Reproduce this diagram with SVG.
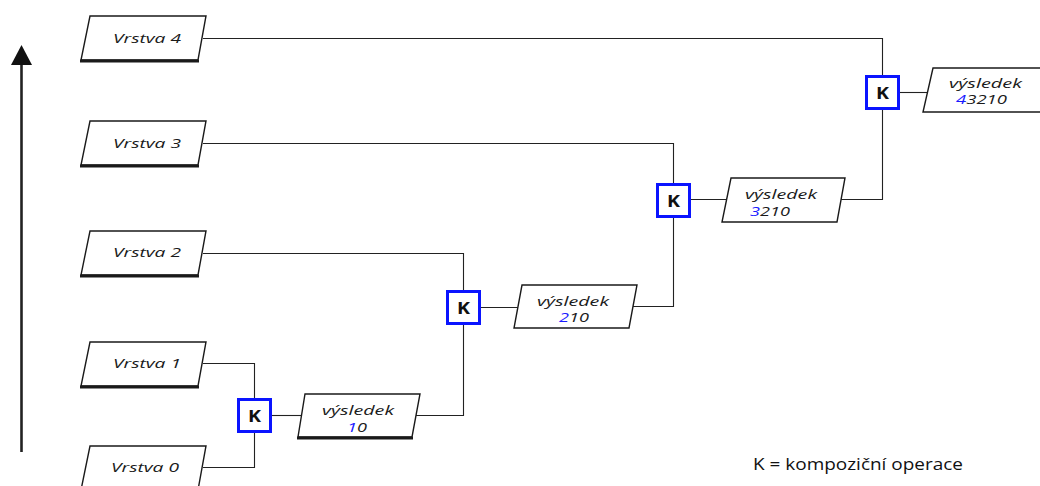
<svg xmlns="http://www.w3.org/2000/svg" width="1040" height="486" viewBox="0 0 1040 486">
  <style>
    .box { fill: #ffffff; stroke: #1a1a1a; stroke-width: 1.4; stroke-linejoin: miter; }
    .base { stroke: #1a1a1a; stroke-width: 3.2; fill: none; }
    .lbl { font-family: "Open Sans", "Liberation Sans", sans-serif; font-style: italic; font-size: 13px; fill: #1a1a1a; }
    .hi { fill: #1a1aff; }
    .k { fill: #ffffff; stroke: #0a14ff; stroke-width: 3; }
    .kt { font-family: "Open Sans", "Liberation Sans", sans-serif; font-weight: bold; font-size: 16px; fill: #111111; }
    .wire { stroke: #222222; stroke-width: 1.1; fill: none; }
    .note { font-family: "Open Sans", "Liberation Sans", sans-serif; font-size: 17px; fill: #111111; }
  </style>

  <!-- vertical axis arrow -->
  <g id="axis">
    <line x1="21.5" y1="452" x2="21.5" y2="62" stroke="#222222" stroke-width="2.6"/>
    <path d="M11,65 L21.5,45 L32,65 Z" fill="#111111"/>
  </g>

  <!-- connectors -->
  <g id="connectors">
    <polyline class="wire" points="203,38.5 882.5,38.5 882.5,76"/>
    <polyline class="wire" points="203,143.5 673.5,143.5 673.5,184"/>
    <polyline class="wire" points="203,253.5 463.5,253.5 463.5,291"/>
    <polyline class="wire" points="203,363.5 254.5,363.5 254.5,399"/>
    <polyline class="wire" points="203,467.5 254.5,467.5 254.5,432"/>
    <line class="wire" x1="271" y1="415.5" x2="301" y2="415.5"/>
    <polyline class="wire" points="416,415.5 463.5,415.5 463.5,324"/>
    <line class="wire" x1="480" y1="307.5" x2="518" y2="307.5"/>
    <polyline class="wire" points="633,306.5 673.5,306.5 673.5,216"/>
    <line class="wire" x1="689" y1="199.5" x2="727" y2="199.5"/>
    <polyline class="wire" points="841,199.5 882.5,199.5 882.5,109"/>
    <line class="wire" x1="898" y1="92.5" x2="928" y2="92.5"/>
  </g>

  <!-- layer inputs -->
  <g id="vrstva4">
    <path class="box" d="M90,16 L206,16 L198,60 L81,60 Z"/>
    <line class="base" x1="80" y1="61" x2="199" y2="61"/>
    <text class="lbl" x="113" y="43" textLength="68" lengthAdjust="spacingAndGlyphs">Vrstva 4</text>
  </g>
  <g id="vrstva3">
    <path class="box" d="M90,121 L206,121 L198,165 L81,165 Z"/>
    <line class="base" x1="80" y1="166" x2="199" y2="166"/>
    <text class="lbl" x="113" y="148" textLength="68" lengthAdjust="spacingAndGlyphs">Vrstva 3</text>
  </g>
  <g id="vrstva2">
    <path class="box" d="M90,231 L206,231 L198,275 L81,275 Z"/>
    <line class="base" x1="80" y1="276" x2="199" y2="276"/>
    <text class="lbl" x="113" y="257" textLength="68" lengthAdjust="spacingAndGlyphs">Vrstva 2</text>
  </g>
  <g id="vrstva1">
    <path class="box" d="M90,342 L206,342 L198,386 L81,386 Z"/>
    <line class="base" x1="80" y1="387" x2="199" y2="387"/>
    <text class="lbl" x="113" y="368" textLength="68" lengthAdjust="spacingAndGlyphs">Vrstva 1</text>
  </g>
  <g id="vrstva0">
    <path class="box" d="M90,446 L206,446 L198,490 L81,490 Z"/>
    <text class="lbl" x="111" y="472" textLength="68" lengthAdjust="spacingAndGlyphs">Vrstva 0</text>
  </g>

  <!-- composition operators -->
  <g id="k1">
    <rect class="k" x="238.5" y="399.5" width="32" height="32"/>
    <text class="kt" x="248" y="421.5" textLength="13" lengthAdjust="spacingAndGlyphs">K</text>
  </g>
  <g id="k2">
    <rect class="k" x="447.5" y="291.5" width="32" height="32"/>
    <text class="kt" x="457" y="313.5" textLength="13" lengthAdjust="spacingAndGlyphs">K</text>
  </g>
  <g id="k3">
    <rect class="k" x="657.5" y="184.5" width="32" height="32"/>
    <text class="kt" x="667" y="206.5" textLength="13" lengthAdjust="spacingAndGlyphs">K</text>
  </g>
  <g id="k4">
    <rect class="k" x="866.5" y="76.5" width="32" height="32"/>
    <text class="kt" x="876" y="98.5" textLength="13" lengthAdjust="spacingAndGlyphs">K</text>
  </g>

  <!-- intermediate results -->
  <g id="vysledek10">
    <path class="box" d="M305,394 L420,394 L412,437 L298,437 Z"/>
    <line class="base" x1="297" y1="438" x2="413" y2="438"/>
    <text class="lbl" x="322" y="415" textLength="72" lengthAdjust="spacingAndGlyphs">výsledek</text>
    <text class="lbl" x="347" y="431.5" textLength="20" lengthAdjust="spacingAndGlyphs"><tspan class="hi">1</tspan>0</text>
  </g>
  <g id="vysledek210">
    <path class="box" d="M522,285 L637,285 L629,328 L514,328 Z"/>
    <text class="lbl" x="537" y="306" textLength="72" lengthAdjust="spacingAndGlyphs">výsledek</text>
    <text class="lbl" x="559" y="322" textLength="30" lengthAdjust="spacingAndGlyphs"><tspan class="hi">2</tspan>10</text>
  </g>
  <g id="vysledek3210">
    <path class="box" d="M731,178 L845,178 L837,222 L722,222 Z"/>
    <text class="lbl" x="745" y="199" textLength="72" lengthAdjust="spacingAndGlyphs">výsledek</text>
    <text class="lbl" x="750" y="216" textLength="40" lengthAdjust="spacingAndGlyphs"><tspan class="hi">3</tspan>210</text>
  </g>
  <g id="vysledek43210">
    <path class="box" d="M933,68 L1050,68 L1042,112 L923,112 Z"/>
    <text class="lbl" x="949" y="88" textLength="73" lengthAdjust="spacingAndGlyphs">výsledek</text>
    <text class="lbl" x="956" y="104" textLength="51" lengthAdjust="spacingAndGlyphs"><tspan class="hi">4</tspan>3210</text>
  </g>

  <!-- legend -->
  <text class="note" x="753" y="470" textLength="210" lengthAdjust="spacingAndGlyphs">K = kompoziční operace</text>
</svg>
